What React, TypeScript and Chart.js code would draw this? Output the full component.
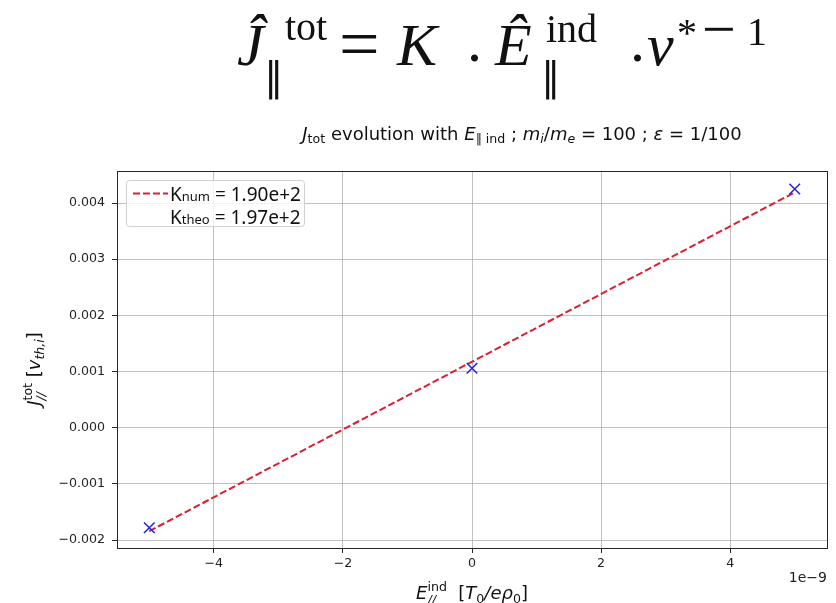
import React, { useEffect, useRef } from 'react';
import { Chart, registerables } from 'chart.js';

Chart.register(...registerables);

// ---- data ----
const eIndValues = [-5e-9, 0, 5e-9];
const jTotValues = [-0.00178, 0.00106, 0.00425];
const fitX = [-5e-9, 5e-9];
const fitY = [-0.00184, 0.00419];
const xTickValues = [-4e-9, -2e-9, 0, 2e-9, 4e-9];
const xTickLabels = ['\u22124', '\u22122', '0', '2', '4'];
const yTickValues = [-0.002, -0.001, 0, 0.001, 0.002, 0.003, 0.004];
const yTickLabels = ['\u22120.002', '\u22120.001', '0.000', '0.001', '0.002', '0.003', '0.004'];
const kNumLabel = '1.90e+2';
const kTheoLabel = '1.97e+2';

const SANS = '"DejaVu Sans"';
const SERIF = '"Liberation Serif", "DejaVu Serif", serif';
const LEG = '"Noto Sans", "DejaVu Sans"';
const RED = '#dc1e32';
const BLUE = '#2222d8';

type Run = { t: string; f: string; dy?: number; stack?: Run[] };

function runWidth(ctx: CanvasRenderingContext2D, r: Run): number {
  if (r.stack) return Math.max(...r.stack.map((s) => runWidth(ctx, s)));
  ctx.font = r.f;
  return ctx.measureText(r.t).width;
}

function drawRuns(ctx: CanvasRenderingContext2D, runs: Run[], cx: number, y: number, align: 'center' | 'left') {
  const total = runs.reduce((a, r) => a + runWidth(ctx, r), 0);
  let x = align === 'center' ? cx - total / 2 : cx;
  ctx.textAlign = 'left';
  ctx.textBaseline = 'alphabetic';
  for (const r of runs) {
    if (r.stack) {
      for (const s of r.stack) {
        ctx.font = s.f;
        ctx.fillText(s.t, x, y + (s.dy || 0));
      }
    } else {
      ctx.font = r.f;
      ctx.fillText(r.t, x, y + (r.dy || 0));
    }
    x += runWidth(ctx, r);
  }
}

const textPlugin = {
  id: 'texts',
  afterDraw(chart: any) {
    const ctx: CanvasRenderingContext2D = chart.ctx;
    const area = chart.chartArea;
    ctx.save();

    // axes frame
    ctx.strokeStyle = '#262626';
    ctx.lineWidth = 1;
    ctx.strokeRect(Math.round(area.left) + 0.5, Math.round(area.top) + 0.5, Math.round(area.right - area.left), Math.round(area.bottom - area.top));

    ctx.fillStyle = '#111';
    // formula
    const big = 60;
    const small = 40;
    const it = (s: number) => `italic ${s}px ${SERIF}`;
    const rm = (s: number) => `${s}px ${SERIF}`;
    const par = `40px "DejaVu Sans"`;
    const formula: [string, string, number, number][] = [
      ['\u0134', it(big), 237, 65],
      ['\u2225', par, 264, 91],
      ['tot', rm(small), 285, 40],
      ['=', rm(72), 339, 68],
      ['K', it(big), 397, 65],
      ['.', rm(big), 467, 61],
      ['\u00CA', it(big), 495, 65],
      ['\u2225', par, 541, 91],
      ['ind', rm(small), 546, 42],
      ['.', rm(big), 630, 61],
      ['\u03BD', it(big), 647, 65],
      ['*', rm(small), 677, 46],
      ['\u2212', rm(60), 702, 49],
      ['1', rm(small), 747, 45],
    ];
    ctx.textAlign = 'left';
    ctx.textBaseline = 'alphabetic';
    for (const [t, f, x, y] of formula) {
      ctx.font = f;
      ctx.fillText(t, x, y);
    }

    // title
    const T = 18;
    const S = 12.6;
    const r18 = `${T}px ${SANS}`;
    const i18 = `italic ${T}px ${SANS}`;
    const rS = `${S}px ${SANS}`;
    const iS = `italic ${S}px ${SANS}`;
    ctx.fillStyle = '#111';
    drawRuns(ctx, [
      { t: 'J', f: i18 },
      { t: 'tot', f: rS, dy: 3 },
      { t: ' evolution with ', f: r18 },
      { t: 'E', f: i18 },
      { t: '\u2225 ind', f: rS, dy: 3 },
      { t: ' ; ', f: r18 },
      { t: 'm', f: i18 },
      { t: 'i', f: iS, dy: 3 },
      { t: '/', f: r18 },
      { t: 'm', f: i18 },
      { t: 'e', f: iS, dy: 3 },
      { t: ' = 100 ; ', f: r18 },
      { t: '\u03B5', f: i18 },
      { t: ' = 1/100', f: r18 },
    ], 522, 140, 'center');

    // x label
    drawRuns(ctx, [
      { t: 'E', f: i18 },
      { t: '', f: rS, stack: [{ t: 'ind', f: rS, dy: -8 }, { t: '//', f: iS, dy: 5 }] },
      { t: '  [', f: r18 },
      { t: 'T', f: i18 },
      { t: '0', f: rS, dy: 4 },
      { t: '/', f: i18 },
      { t: 'e\u03C1', f: i18 },
      { t: '0', f: rS, dy: 4 },
      { t: ']', f: r18 },
    ], 472, 599, 'center');

    // y label
    ctx.save();
    ctx.translate(40, 369);
    ctx.rotate(-Math.PI / 2);
    drawRuns(ctx, [
      { t: 'J', f: i18 },
      { t: '', f: rS, stack: [{ t: 'tot', f: rS, dy: -8 }, { t: '//', f: iS, dy: 5 }] },
      { t: ' [', f: r18 },
      { t: 'v', f: i18 },
      { t: 'th,i', f: iS, dy: 4 },
      { t: ']', f: r18 },
    ], 0, 0, 'center');
    ctx.restore();

    // offset text
    ctx.font = `14px ${SANS}`;
    ctx.textAlign = 'right';
    ctx.fillStyle = '#222';
    ctx.fillText('1e\u22129', 827, 582);

    // legend
    ctx.fillStyle = 'rgba(255,255,255,0.8)';
    ctx.strokeStyle = '#d0d0d0';
    ctx.lineWidth = 1;
    ctx.beginPath();
    (ctx as any).roundRect(126.5, 180.5, 178, 46, 3);
    ctx.fill();
    ctx.stroke();
    ctx.strokeStyle = RED;
    ctx.lineWidth = 2;
    ctx.setLineDash([7, 3]);
    ctx.beginPath();
    ctx.moveTo(133, 193.5);
    ctx.lineTo(168, 193.5);
    ctx.stroke();
    ctx.setLineDash([]);
    ctx.fillStyle = '#111';
    const L = `19px ${LEG}`;
    const Ls = `13px ${LEG}`;
    drawRuns(ctx, [{ t: 'K', f: L }, { t: 'num', f: Ls }, { t: ' = ' + kNumLabel, f: L }], 170, 201, 'left');
    drawRuns(ctx, [{ t: 'K', f: L }, { t: 'theo', f: Ls }, { t: ' = ' + kTheoLabel, f: L }], 170, 224, 'left');

    ctx.restore();
  },
};

export default function App() {
  const ref = useRef<HTMLCanvasElement | null>(null);
  useEffect(() => {
    document.body.style.margin = '0';
    if (!ref.current) return;
    const gridCommon = {
      color: '#b0b0b0',
      lineWidth: 0.8,
      tickLength: 5,
      tickColor: '#262626',
      tickWidth: 1,
      drawTicks: true,
    };
    const chart = new Chart(ref.current, {
      type: 'scatter',
      data: {
        datasets: [
          {
            label: 'data',
            data: eIndValues.map((x, i) => ({ x, y: jTotValues[i] })),
            showLine: false,
            pointStyle: 'crossRot',
            pointRadius: 7.5,
            pointBorderColor: BLUE,
            pointBorderWidth: 1.5,
            borderColor: BLUE,
            backgroundColor: BLUE,
          },
          {
            label: 'fit',
            type: 'line',
            data: fitX.map((x, i) => ({ x, y: fitY[i] })),
            showLine: true,
            borderColor: RED,
            borderWidth: 2,
            borderDash: [7, 3],
            pointRadius: 0,
            fill: false,
          } as any,
        ],
      },
      options: {
        animation: false,
        responsive: false,
        layout: { padding: { top: 171, left: 0, right: 8, bottom: 0 } },
        plugins: { legend: { display: false }, title: { display: false }, tooltip: { enabled: false } },
        scales: {
          x: {
            type: 'linear',
            min: -5.5e-9,
            max: 5.5e-9,
            afterBuildTicks: (s: any) => { s.ticks = xTickValues.map((v) => ({ value: v })); },
            afterFit: (s: any) => { s.height = 55; },
            ticks: {
              callback: (_v: any, i: number) => xTickLabels[i],
              font: { family: 'DejaVu Sans', size: 12.6 },
              color: '#222',
              padding: 3,
              maxRotation: 0,
              autoSkip: false,
            },
            grid: gridCommon,
            border: { display: true, color: '#262626', width: 1 },
          },
          y: {
            type: 'linear',
            min: -0.00214,
            max: 0.00457,
            afterBuildTicks: (s: any) => { s.ticks = yTickValues.map((v) => ({ value: v })); },
            afterFit: (s: any) => { s.width = 117; },
            ticks: {
              callback: (_v: any, i: number) => yTickLabels[i],
              font: { family: 'DejaVu Sans', size: 12.6 },
              color: '#222',
              padding: 7,
              autoSkip: false,
            },
            grid: gridCommon,
            border: { display: true, color: '#262626', width: 1 },
          },
        },
      },
      plugins: [textPlugin],
    } as any);
    return () => chart.destroy();
  }, []);
  return (
    <div style={{ position: 'absolute', left: 0, top: 0, width: 836, height: 603, background: '#fff' }}>
      <canvas ref={ref} width={836} height={603} style={{ display: 'block' }} />
    </div>
  );
}
